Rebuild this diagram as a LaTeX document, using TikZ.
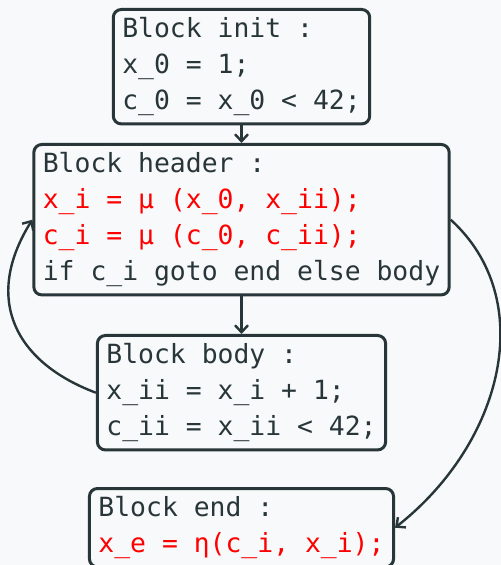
\documentclass[tikz,border=0pt]{standalone}
\usepackage{fontspec}
\setmonofont{DejaVu Sans Mono}
\usepackage{tikz}
\usetikzlibrary{arrows.meta}
\definecolor{ink}{RGB}{40,54,58}
\definecolor{phi}{RGB}{255,0,0}
\definecolor{paper}{RGB}{248,249,250}

\begin{document}
\begin{tikzpicture}[x=0.5pt,y=-0.5pt,
  block/.style={draw=ink,text=ink,line width=1.5pt,rounded corners=4pt,align=left,anchor=north,inner xsep=4.5pt,inner ysep=4pt,font=\ttfamily\fontsize{13.2}{18}\selectfont},
  flow/.style={draw=ink,line width=1.2pt,-{Straight Barb[length=3.5pt,width=6.5pt]}}]
\fill[paper](0,0)rectangle(501,565);
\useasboundingbox (0,0) rectangle (501,565);
% the four blocks
\node at (241.5,8) [block] (init) {Block init :\\x\_0 = 1;\\c\_0 = x\_0 < 42;};
\node at (241.5,143) [block] (header) {Block header :\\{\color{phi}x\_i = μ (x\_0, x\_ii);}\\{\color{phi}c\_i = μ (c\_0, c\_ii);}\\if c\_i goto end else body};
\node at (241.5,334) [block] (body) {Block body :\\x\_ii = x\_i + 1;\\c\_ii = x\_ii < 42;};
\node at (241.5,487) [block] (end) {Block end :\\{\color{phi}x\_e = η(c\_i, x\_i);}};
% edges
\draw [flow](init.south)--(header.north);
\draw [flow](header.south)--(body.north);
\draw [flow](body.west) .. controls +(-80,-30) and +(-50,80) .. (header.west);
\draw [flow](header.east) .. controls +(88,80) and +(108,-85) .. (end.east);
\end{tikzpicture}
\end{document}
